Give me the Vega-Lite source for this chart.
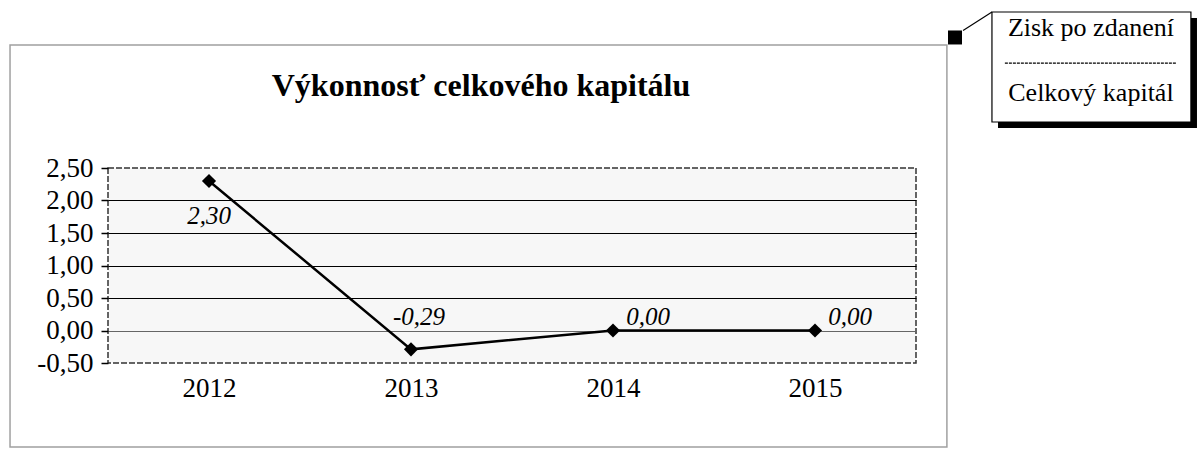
{
  "$schema": "https://vega.github.io/schema/vega-lite/v6.json",
  "width": 808,
  "height": 195,
  "autosize": {"type": "none"},
  "padding": {"left": 108, "top": 168, "right": 286, "bottom": 87},
  "background": "white",
  "config": {
    "locale": {"number": {"decimal": ",", "thousands": " ", "grouping": [3], "currency": ["", " €"], "minus": "-"}},
    "font": "Liberation Serif",
    "view": {"fill": "#f7f7f7", "stroke": "#333333", "strokeDash": [6, 2], "strokeWidth": 1.5}
  },
  "title": {
    "text": "Výkonnosť celkového kapitálu",
    "font": "Liberation Serif",
    "fontSize": 32,
    "fontWeight": "bold",
    "color": "black",
    "anchor": "middle",
    "dx": -31,
    "offset": -92
  },
  "data": {"values": [
    {"year": 2012, "value": 2.30},
    {"year": 2013, "value": -0.29},
    {"year": 2014, "value": 0.00},
    {"year": 2015, "value": 0.00}
  ]},
  "layer": [
    {
      "mark": {"type": "line", "color": "black", "strokeWidth": 2.5},
      "encoding": {
        "x": {
          "field": "year", "type": "quantitative",
          "scale": {"domain": [2011.5, 2015.5], "nice": false, "zero": false},
          "axis": {
            "title": null, "values": [2012, 2013, 2014, 2015], "format": "d", "tickCount": 20,
            "domain": false, "ticks": false, "grid": false,
            "labelFont": "Liberation Serif", "labelFontSize": 27, "labelColor": "black",
            "labelPadding": 12, "labelOverlap": false
          }
        },
        "y": {
          "field": "value", "type": "quantitative",
          "scale": {"domain": [-0.5, 2.5], "nice": false, "zero": false},
          "axis": {
            "title": null, "values": [-0.5, 0, 0.5, 1, 1.5, 2, 2.5], "format": ".2f", "tickCount": 20,
            "domain": false, "ticks": true, "tickColor": "black", "tickSize": 7, "tickWidth": 1.5,
            "labelFont": "Liberation Serif", "labelFontSize": 27, "labelColor": "black",
            "labelPadding": 8, "labelOverlap": false, "labelBound": false, "labelFlush": false,
            "grid": true,
            "gridColor": {"condition": {"test": "datum.value == 0", "value": "#666666"}, "value": "black"},
            "gridOpacity": {"condition": {"test": "datum.value == 2.5 || datum.value == -0.5", "value": 0}, "value": 1},
            "gridWidth": 1.2
          }
        }
      }
    },
    {
      "data": {"values": [{}]},
      "mark": {"type": "rect", "filled": false, "stroke": "#a0a0a0", "strokeWidth": 1.5},
      "encoding": {
        "x": {"datum": 2011.015, "type": "quantitative"},
        "x2": {"datum": 2015.653},
        "y": {"datum": 4.392, "type": "quantitative"},
        "y2": {"datum": -1.792}
      }
    },
    {
      "mark": {"type": "point", "shape": "diamond", "filled": true, "color": "black", "opacity": 1, "size": 200},
      "encoding": {
        "x": {"field": "year", "type": "quantitative"},
        "y": {"field": "value", "type": "quantitative"}
      }
    },
    {
      "transform": [{"filter": "datum.year == 2012"}],
      "mark": {"type": "text", "font": "Liberation Serif", "fontSize": 25, "fontStyle": "italic", "color": "black", "dy": 35},
      "encoding": {
        "x": {"field": "year", "type": "quantitative"},
        "y": {"field": "value", "type": "quantitative"},
        "text": {"field": "value", "type": "quantitative", "format": ".2f"}
      }
    },
    {
      "transform": [{"filter": "datum.year == 2013"}],
      "mark": {"type": "text", "font": "Liberation Serif", "fontSize": 25, "fontStyle": "italic", "color": "black", "dx": 8, "dy": -32},
      "encoding": {
        "x": {"field": "year", "type": "quantitative"},
        "y": {"field": "value", "type": "quantitative"},
        "text": {"field": "value", "type": "quantitative", "format": ".2f"}
      }
    },
    {
      "transform": [{"filter": "datum.year >= 2014"}],
      "mark": {"type": "text", "font": "Liberation Serif", "fontSize": 25, "fontStyle": "italic", "color": "black", "dx": 35, "dy": -14},
      "encoding": {
        "x": {"field": "year", "type": "quantitative"},
        "y": {"field": "value", "type": "quantitative"},
        "text": {"field": "value", "type": "quantitative", "format": ".2f"}
      }
    },
    {
      "data": {"values": [{}]},
      "mark": {"type": "rect", "fill": "black"},
      "encoding": {
        "x": {"datum": 2015.906, "type": "quantitative"},
        "x2": {"datum": 2016.891},
        "y": {"datum": 4.808, "type": "quantitative"},
        "y2": {"datum": 3.115}
      }
    },
    {
      "data": {"values": [{}]},
      "mark": {"type": "rect", "fill": "white", "stroke": "black", "strokeWidth": 1.2},
      "encoding": {
        "x": {"datum": 2015.876, "type": "quantitative"},
        "x2": {"datum": 2016.861},
        "y": {"datum": 4.9, "type": "quantitative"},
        "y2": {"datum": 3.208}
      }
    },
    {
      "data": {"values": [{}]},
      "mark": {"type": "rule", "color": "black", "strokeWidth": 1.2},
      "encoding": {
        "x": {"datum": 2015.733, "type": "quantitative"},
        "x2": {"datum": 2015.876},
        "y": {"datum": 4.615, "type": "quantitative"},
        "y2": {"datum": 4.9}
      }
    },
    {
      "data": {"values": [{}]},
      "mark": {"type": "point", "shape": "square", "filled": true, "color": "black", "opacity": 1, "size": 196},
      "encoding": {
        "x": {"datum": 2015.693, "type": "quantitative"},
        "y": {"datum": 4.508, "type": "quantitative"}
      }
    },
    {
      "data": {"values": [{}]},
      "mark": {"type": "rule", "color": "black", "strokeWidth": 1.2, "strokeDash": [3, 1]},
      "encoding": {
        "x": {"datum": 2015.94, "type": "quantitative"},
        "x2": {"datum": 2016.79},
        "y": {"datum": 4.115, "type": "quantitative"}
      }
    },
    {
      "data": {"values": [{}]},
      "mark": {"type": "text", "font": "Liberation Serif", "fontSize": 26, "color": "black", "baseline": "middle"},
      "encoding": {
        "x": {"datum": 2016.366, "type": "quantitative"},
        "y": {"datum": 4.654, "type": "quantitative"},
        "text": {"value": "Zisk po zdanení"}
      }
    },
    {
      "data": {"values": [{}]},
      "mark": {"type": "text", "font": "Liberation Serif", "fontSize": 26, "color": "black", "baseline": "middle"},
      "encoding": {
        "x": {"datum": 2016.366, "type": "quantitative"},
        "y": {"datum": 3.654, "type": "quantitative"},
        "text": {"value": "Celkový kapitál"}
      }
    }
  ]
}
